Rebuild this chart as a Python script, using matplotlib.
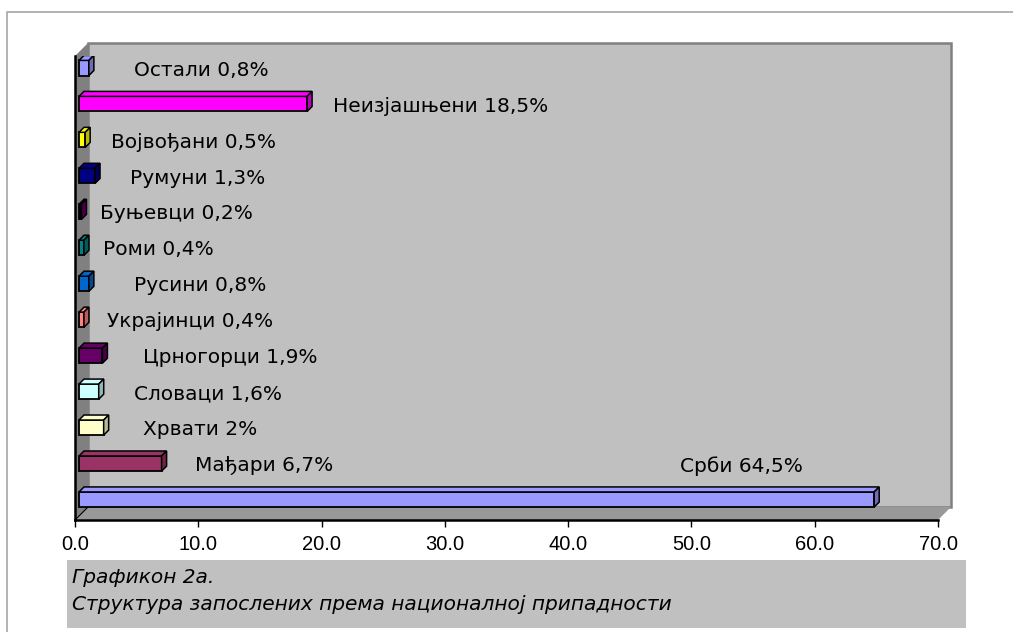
import matplotlib
matplotlib.use("Agg")
import matplotlib.pyplot as plt
from matplotlib.patches import Polygon, Rectangle
from matplotlib.lines import Line2D
from matplotlib.transforms import ScaledTranslation
from matplotlib.colors import to_rgb

# data (bottom to top)
groups = ["Срби", "Мађари", "Хрвати", "Словаци", "Црногорци", "Украјинци",
          "Русини", "Роми", "Буњевци", "Румуни", "Војвођани", "Неизјашњени", "Остали"]
shares = [64.5, 6.7, 2.0, 1.6, 1.9, 0.4, 0.8, 0.4, 0.2, 1.3, 0.5, 18.5, 0.8]
share_text = ["64,5%", "6,7%", "2%", "1,6%", "1,9%", "0,4%", "0,8%", "0,4%",
              "0,2%", "1,3%", "0,5%", "18,5%", "0,8%"]
colors = ["#9999FF", "#993366", "#FFFFCC", "#CCFFFF", "#660066", "#FF8080",
          "#0066CC", "#008080", "#660066", "#000080", "#FFFF00", "#FF00FF", "#9999FF"]
# where each label starts (x in data units), Срби label sits above its bar
label_x = [49.1, 9.73, 5.52, 4.79, 5.52, 2.60, 4.79, 2.27, 2.03, 4.46, 2.90, 20.92, 4.79]
xticks = [0, 10, 20, 30, 40, 50, 60, 70]
caption = ["Графикон 2а.", "Структура запослених према националној припадности"]

W, H = 1013, 632
fig = plt.figure(figsize=(W / 100, H / 100), dpi=100)

# pixel layout of the front box of the plot
L, R, T, B = 75, 938, 56, 520
D = 13  # wall depth in px

bg = fig.add_axes([0, 0, 1, 1])
bg.set_xlim(0, W)
bg.set_ylim(H, 0)
bg.axis("off")

# outer frame
bg.add_line(Line2D([7, 7, W], [H, 12, 12], color="#A6A6A6", lw=1.2))

# walls
bg.add_patch(Rectangle((L + D, T - D), R - L, B - T, facecolor="#C0C0C0",
                       edgecolor="#808080", lw=1.8, zorder=1))
bg.add_patch(Polygon([(L, B), (L, T), (L + D, T - D), (L + D, B - D)],
                     closed=True, facecolor="#808080", edgecolor="none", zorder=2))
bg.add_patch(Polygon([(L, B), (R, B), (R + D, B - D), (L + D, B - D)],
                     closed=True, facecolor="#999999", edgecolor="none", zorder=2))
bg.add_line(Line2D([L, L + D], [B, B - D], color="black", lw=0.8, zorder=3))

# caption box
bg.add_patch(Rectangle((67, 560), 966 - 67, 68, facecolor="#C0C0C0",
                       edgecolor="none", zorder=1))
bg.text(72, 583, caption[0], fontsize=14.5, style="italic", family="DejaVu Sans",
        va="baseline", ha="left")
bg.text(72, 610, caption[1], fontsize=14.5, style="italic", family="DejaVu Sans",
        va="baseline", ha="left")

ax = fig.add_axes([L / W, 1 - B / H, (R - L) / W, (B - T) / H])
ax.patch.set_alpha(0)
ax.set_xlim(0, 70)
y0 = 499.5
step = 35.96
ax.set_ylim(-(B - y0) / step, (y0 - T) / step)

xpx = (R - L) / 70.0
dd = 5  # bar depth px
ddx, ddy = dd / xpx, dd / step
shift = ScaledTranslation(4 / 100, 0, fig.dpi_scale_trans)
tr = ax.transData + shift
h = 0.42

ypos = list(range(len(groups)))
bars = ax.barh(ypos, shares, height=h, color=colors, edgecolor="black",
               linewidth=1.3, zorder=3)
for b in bars:
    b.set_transform(tr)

for y, v, c in zip(ypos, shares, colors):
    top = y + h / 2
    ax.add_patch(Polygon([(0, top), (v, top), (v + ddx, top + ddy), (ddx, top + ddy)],
                         closed=True, facecolor=c, edgecolor="black", lw=1.1,
                         transform=tr, zorder=3))
    dark = tuple(ch * 0.72 for ch in to_rgb(c))
    ax.add_patch(Polygon([(v, top), (v, y - h / 2), (v + ddx, y - h / 2 + ddy),
                          (v + ddx, top + ddy)],
                         closed=True, facecolor=dark, edgecolor="black", lw=1.1,
                         transform=tr, zorder=3))

for i, (g, s, lx) in enumerate(zip(groups, share_text, label_x)):
    ly = i - 0.06 if i > 0 else 0.93
    ax.text(lx, ly, f"{g} {s}", fontsize=14.5, family="DejaVu Sans",
            va="center", ha="left", zorder=4)

for sp in ["top", "right"]:
    ax.spines[sp].set_visible(False)
ax.spines["bottom"].set_linewidth(1.8)
ax.spines["left"].set_linewidth(1.8)
ax.set_yticks([])
ax.set_xticks(xticks)
ax.set_xticklabels([f"{t:.1f}" for t in xticks], fontsize=14.5, family="Liberation Sans")
ax.tick_params(axis="x", direction="out", length=5, width=1, pad=6)

fig.savefig("out.png", dpi=100)
